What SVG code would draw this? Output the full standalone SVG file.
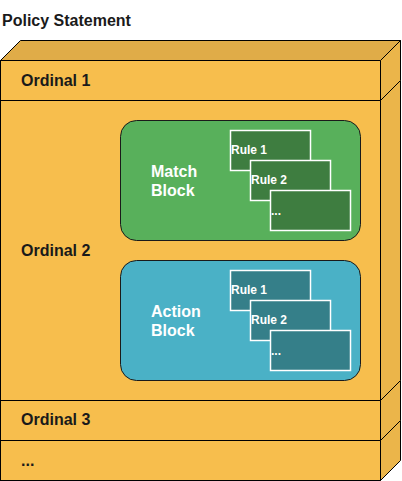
<svg xmlns="http://www.w3.org/2000/svg" width="402" height="481" viewBox="0 0 402 481">
<style>
text{font-family:"Liberation Sans",Arial,sans-serif;font-weight:bold}
.ord{font-size:16px;fill:#1a1a1a}
.blk{font-size:16px;fill:#ffffff}
.rule{font-size:12px;fill:#ffffff}
.front{fill:#f7be4d;stroke:#000;stroke-width:1}
.side{fill:#ebb54a;stroke:#000;stroke-width:1}
.top{fill:#e0ac48;stroke:#000;stroke-width:1}
.match{fill:#58b05b;stroke:#1a1a1a;stroke-width:1}
.mrule{fill:#3e7d40;stroke:#fff;stroke-width:1.5}
.action{fill:#4ab1c6;stroke:#1a1a1a;stroke-width:1}
.arule{fill:#357f89;stroke:#fff;stroke-width:1.5}
</style>
<rect width="402" height="481" fill="#ffffff"/>
<text x="2" y="26" class="ord" id="title">Policy Statement</text>
<g id="ordinal-etc">
<rect x="0.5" y="440.5" width="380" height="40" class="front"/>
<polygon points="380.5,440.5 400.5,420.5 400.5,460.5 380.5,480.5" class="side"/>
<text x="21" y="466" class="ord">...</text>
</g>
<g id="ordinal-3">
<rect x="0.5" y="400.5" width="380" height="40" class="front"/>
<polygon points="380.5,400.5 400.5,380.5 400.5,420.5 380.5,440.5" class="side"/>
<text x="21" y="425" class="ord">Ordinal 3</text>
</g>
<g id="ordinal-2">
<rect x="0.5" y="100.5" width="380" height="300" class="front"/>
<polygon points="380.5,100.5 400.5,80.5 400.5,380.5 380.5,400.5" class="side"/>
<text x="21" y="256" class="ord">Ordinal 2</text>
</g>
<g id="ordinal-1">
<polygon points="0.5,60.5 20.5,40.5 400.5,40.5 380.5,60.5" class="top"/>
<rect x="0.5" y="60.5" width="380" height="40" class="front"/>
<polygon points="380.5,60.5 400.5,40.5 400.5,80.5 380.5,100.5" class="side"/>
<text x="21" y="86" class="ord">Ordinal 1</text>
</g>
<g id="match-block">
<rect x="120.5" y="120.5" width="240" height="120" rx="16" ry="16" class="match"/>
<text x="151" y="177" class="blk">Match</text>
<text x="151" y="196" class="blk">Block</text>
</g>
<g id="match-rule-1">
<rect x="230.5" y="130.5" width="80" height="40" class="mrule"/>
<text x="231" y="154" class="rule">Rule 1</text>
</g>
<g id="match-rule-2">
<rect x="250.5" y="160.5" width="80" height="40" class="mrule"/>
<text x="251" y="184" class="rule">Rule 2</text>
</g>
<g id="match-rule-etc">
<rect x="270.5" y="190.5" width="80" height="40" class="mrule"/>
<text x="271" y="215" class="rule">...</text>
</g>
<g id="action-block">
<rect x="120.5" y="260.5" width="240" height="120" rx="16" ry="16" class="action"/>
<text x="151" y="317" class="blk">Action</text>
<text x="151" y="336" class="blk">Block</text>
</g>
<g id="action-rule-1">
<rect x="230.5" y="270.5" width="80" height="40" class="arule"/>
<text x="231" y="294" class="rule">Rule 1</text>
</g>
<g id="action-rule-2">
<rect x="250.5" y="300.5" width="80" height="40" class="arule"/>
<text x="251" y="324" class="rule">Rule 2</text>
</g>
<g id="action-rule-etc">
<rect x="270.5" y="330.5" width="80" height="40" class="arule"/>
<text x="271" y="355" class="rule">...</text>
</g>
<g id="connectors"></g>
</svg>
